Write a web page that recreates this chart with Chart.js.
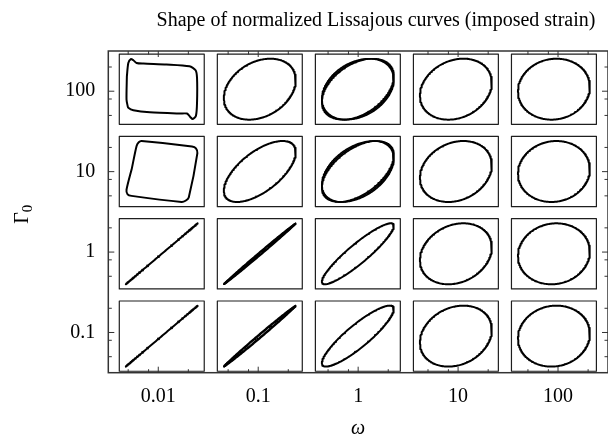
<!DOCTYPE html>
<html>
<head>
<meta charset="utf-8">
<script src="https://cdn.jsdelivr.net/npm/chart.js@4.4.1/dist/chart.umd.min.js"></script>
<style>
  html, body { margin: 0; padding: 0; background: #fff; }
  canvas { display: block; }
</style>
</head>
<body>
<canvas id="lissajous" width="608" height="439"></canvas>
<script>
const omega = [0.01, 0.1, 1, 10, 100];
const gamma0 = [100, 10, 1, 0.1];
const xTickLabels = ["0.01", "0.1", "1", "10", "100"];
const yTickLabels = ["100", "10", "1", "0.1"];
const minorSteps = [2, 5, 8];

// phase lag (deg) of each recorded loop; rows = gamma0, cols = omega
// null = strongly non-linear loop, traced by hand below
const phaseLag = [
  [null, [73], [65, 68.5, 72], [78], [86]],
  [null, [51], [58, 61.5, 65], [78], [86]],
  [[0], [2, 3.5], [24], [78], [86]],
  [[0], [2.5, 4.5], [28], [78], [86]],
];

// non-linear loops at omega = 0.01 (normalized strain u, normalized stress v)
const loop100U = [-0.97, -0.93, -0.86, -0.79, -0.70, -0.51, 0.13, 0.77, 0.94, 0.98, 0.98, 0.95, 0.86, 0.79, 0.70, 0.50, -0.33, -0.79, -0.93, -0.95, -0.98, -0.97];
const loop100V = [0.42, 0.86, 0.99, 0.95, 0.86, 0.84, 0.81, 0.75, 0.62, 0.37, -0.45, -0.87, -0.98, -0.91, -0.80, -0.80, -0.76, -0.69, -0.61, -0.54, -0.34, 0.42];
const loop10U = [-0.83, -0.70, -0.64, -0.56, 0.84, 0.95, 0.99, 0.75, 0.66, 0.55, -0.84, -0.95, -0.98, -0.83];
const loop10V = [0.11, 0.84, 0.96, 1.0, 0.82, 0.76, 0.60, -0.85, -0.96, -1.0, -0.80, -0.75, -0.60, 0.11];

const serif = "'Liberation Serif', 'Times New Roman', serif";

// layout of the small panels, in decades
const cellHalfX = 0.425, cellHalfY = 0.437;
const curveHalfX = 0.36, curveHalfY = 0.379;

function cellCenter(i, j) {
  return {
    cx: 0.981 * Math.log10(omega[j]) - 0.003,
    cy: 0.49 + 1.0235 * (Math.log10(gamma0[i]) - 0.5),
  };
}

function toData(c, u, v) {
  return { x: Math.pow(10, c.cx + curveHalfX * u), y: Math.pow(10, c.cy + curveHalfY * v) };
}

const datasets = [];
gamma0.forEach((g, i) => {
  omega.forEach((w, j) => {
    const c = cellCenter(i, j);
    const x0 = Math.pow(10, c.cx - cellHalfX), x1 = Math.pow(10, c.cx + cellHalfX);
    const y0 = Math.pow(10, c.cy - cellHalfY), y1 = Math.pow(10, c.cy + cellHalfY);
    datasets.push({
      data: [{ x: x0, y: y0 }, { x: x1, y: y0 }, { x: x1, y: y1 }, { x: x0, y: y1 }, { x: x0, y: y0 }],
      borderColor: "#1e1e1e",
      borderWidth: 1.2,
    });

    const lags = phaseLag[i][j];
    if (lags) {
      lags.forEach(d => {
        const pts = [];
        const delta = d * Math.PI / 180;
        for (let k = 0; k <= 240; k++) {
          const t = (k / 240) * 2 * Math.PI;
          pts.push(toData(c, Math.sin(t), Math.sin(t + delta)));
        }
        datasets.push({ data: pts, borderColor: "#000", borderWidth: lags.length > 1 ? 1.6 : 2 });
      });
    } else {
      const us = g === 100 ? loop100U : loop10U;
      const vs = g === 100 ? loop100V : loop10V;
      datasets.push({
        data: us.map((u, k) => toData(c, u, vs[k])),
        borderColor: "#000",
        borderWidth: 2,
        tension: 0.25,
      });
    }
  });
});

const decoration = {
  id: "decoration",
  afterDatasetsDraw(chart) {
    const { ctx, chartArea: a, scales: { x, y } } = chart;
    ctx.save();
    ctx.strokeStyle = "#333";
    ctx.lineWidth = 1.5;
    ctx.strokeRect(a.left, a.top, a.right - a.left, a.bottom - a.top);

    const tick = (scale, v, len) => {
      const p = scale.getPixelForValue(v);
      ctx.beginPath();
      if (scale === x) {
        ctx.moveTo(p, a.bottom); ctx.lineTo(p, a.bottom - len);
        ctx.moveTo(p, a.top); ctx.lineTo(p, a.top + len);
      } else {
        ctx.moveTo(a.left, p); ctx.lineTo(a.left + len, p);
        ctx.moveTo(a.right, p); ctx.lineTo(a.right - len, p);
      }
      ctx.stroke();
    };
    ctx.lineWidth = 1;
    for (let e = -3; e <= 2; e++) {
      minorSteps.forEach(m => {
        const v = m * Math.pow(10, e);
        if (v > x.min && v < x.max) tick(x, v, 3.5);
        if (v > y.min && v < y.max) tick(y, v, 3.5);
      });
    }
    omega.forEach(v => tick(x, v, 6));
    gamma0.forEach(v => tick(y, v, 6));

    ctx.fillStyle = "#000";
    ctx.textAlign = "center";
    ctx.textBaseline = "alphabetic";
    ctx.font = "20px " + serif;
    ctx.fillText("Shape of normalized Lissajous curves (imposed strain)", 376, 26);

    ctx.font = "italic 20px " + serif;
    ctx.fillText("ω", (a.left + a.right) / 2, 434);

    ctx.translate(28, 214);
    ctx.rotate(-Math.PI / 2);
    ctx.font = "20px " + serif;
    ctx.textAlign = "left";
    const gw = ctx.measureText("Γ").width;
    ctx.fillText("Γ", -(gw + 8) / 2, 0);
    ctx.font = "15px " + serif;
    ctx.fillText("0", -(gw + 8) / 2 + gw, 4);
    ctx.restore();
  },
};

new Chart(document.getElementById("lissajous"), {
  type: "scatter",
  data: { datasets },
  options: {
    responsive: false,
    animation: false,
    devicePixelRatio: 1,
    showLine: true,
    elements: {
      point: { radius: 0, hoverRadius: 0 },
      line: { borderJoinStyle: "round", borderCapStyle: "round", fill: false },
    },
    layout: { padding: { top: 51, left: 0, right: 0, bottom: 0 } },
    plugins: { legend: { display: false }, tooltip: { enabled: false } },
    scales: {
      x: {
        type: "logarithmic",
        min: Math.pow(10, -2.5),
        max: Math.pow(10, 2.5),
        grid: { display: false, drawTicks: false },
        border: { display: false },
        afterBuildTicks: s => { s.ticks = omega.map(v => ({ value: v })); },
        afterFit: s => { s.height = 66.3; },
        ticks: {
          autoSkip: false,
          maxRotation: 0,
          padding: 12,
          color: "#000",
          font: { family: serif, size: 20 },
          callback: (v, idx) => xTickLabels[idx],
        },
      },
      y: {
        type: "logarithmic",
        min: Math.pow(10, -1.5),
        max: Math.pow(10, 2.5),
        grid: { display: false, drawTicks: false },
        border: { display: false },
        afterBuildTicks: s => { s.ticks = gamma0.map(v => ({ value: v })); },
        afterFit: s => { s.width = 108.3; },
        ticks: {
          autoSkip: false,
          padding: 13,
          color: "#000",
          font: { family: serif, size: 20 },
          callback: (v, idx) => {
            const k = gamma0.indexOf(v);
            return k >= 0 ? yTickLabels[k] : "";
          },
        },
      },
    },
  },
  plugins: [decoration],
});
</script>
</body>
</html>
